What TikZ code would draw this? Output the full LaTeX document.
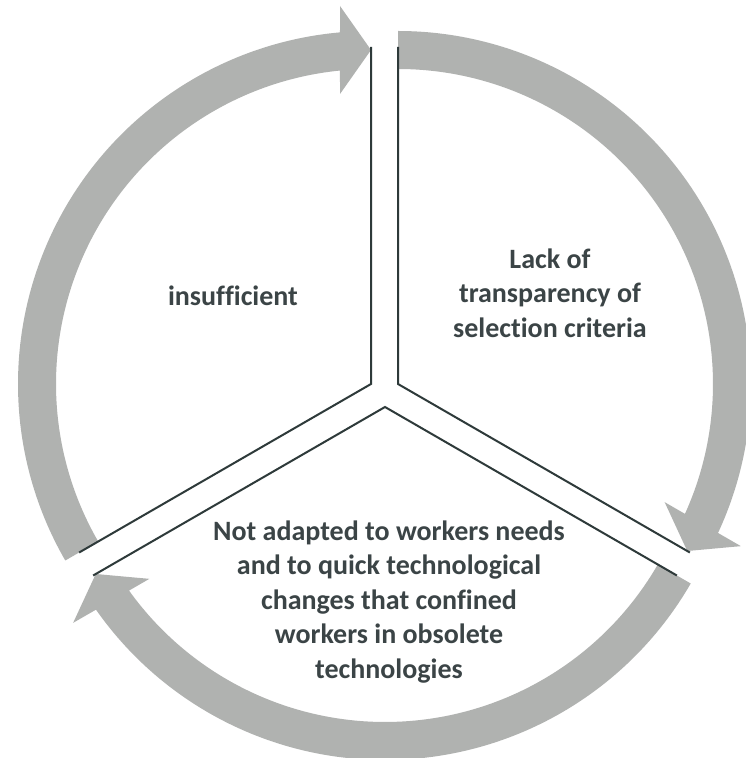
\documentclass[tikz,border=0pt]{standalone}
\usepackage{fontspec}
\setmainfont[Ligatures=NoCommon]{Carlito}
\usetikzlibrary{calc}

\definecolor{arrowgray}{HTML}{B0B2B0}
\definecolor{edgeline}{HTML}{2E3A3A}
\definecolor{labeltext}{HTML}{3B4446}

\tikzset{
  cyclearrow/.style={fill=arrowgray, draw=none},
  sectorline/.style={draw=edgeline, line width=2pt, line join=miter},
  sectorlabel/.style={text=labeltext, font=\bfseries\fontsize{28}{34.5}\selectfont, align=center, inner sep=0pt}
}

% curved block arrow around a sector vertex, from #2 (tail angle) clockwise to #3 (tip angle)
\newcommand{\cyclearc}[3]{%
  \begin{scope}[shift={(#1)}, rotate=#3]
    \fill[cyclearrow]
      ({#2-#3}:353pt) arc[start angle={#2-#3}, end angle=5.04, radius=353pt]
      -- (378pt,31pt) -- (334pt,0pt) -- (290pt,31pt)
      -- (5.65:315pt) arc[start angle=5.65, end angle={#2-#3}, radius=315pt]
      -- cycle;
  \end{scope}}

\begin{document}
\begin{tikzpicture}[x=1pt, y=1pt]
  \fill[white] (0,0) rectangle (745,758);
  \useasboundingbox (0,0) rectangle (745,758);

  % sector vertices
  \coordinate (L) at (371,374);
  \coordinate (R) at (398,374);
  \coordinate (B) at (385,351);

  % outer ends of the sector boundaries
  \coordinate (Ltop) at ($(L)+(90:337pt)$);
  \coordinate (Lbot) at ($(L)+(210:337pt)$);
  \coordinate (Rtop) at ($(R)+(90:337pt)$);
  \coordinate (Rbot) at ($(R)+(-30:337pt)$);
  \coordinate (Bleft) at ($(B)+(210:337pt)$);
  \coordinate (Bright) at ($(B)+(330:337pt)$);

  % cycle arrows
  \cyclearc{L}{210}{90}
  \cyclearc{R}{90}{-30}
  \cyclearc{B}{330}{210}

  % sector boundaries
  \draw[sectorline] (Ltop) -- (L) -- (Lbot);
  \draw[sectorline] (Rtop) -- (R) -- (Rbot);
  \draw[sectorline] (Bleft) -- (B) -- (Bright);

  % labels
  \node[sectorlabel] (t1) at (233,462) {insufficient};
  \node[sectorlabel] (t2) at (550,465) {Lack of\\transparency of\\selection criteria};
  \node[sectorlabel] (t3) at (389,156) {Not adapted to workers needs\\and to quick technological\\changes that confined\\workers in obsolete\\technologies};
\end{tikzpicture}
\end{document}
